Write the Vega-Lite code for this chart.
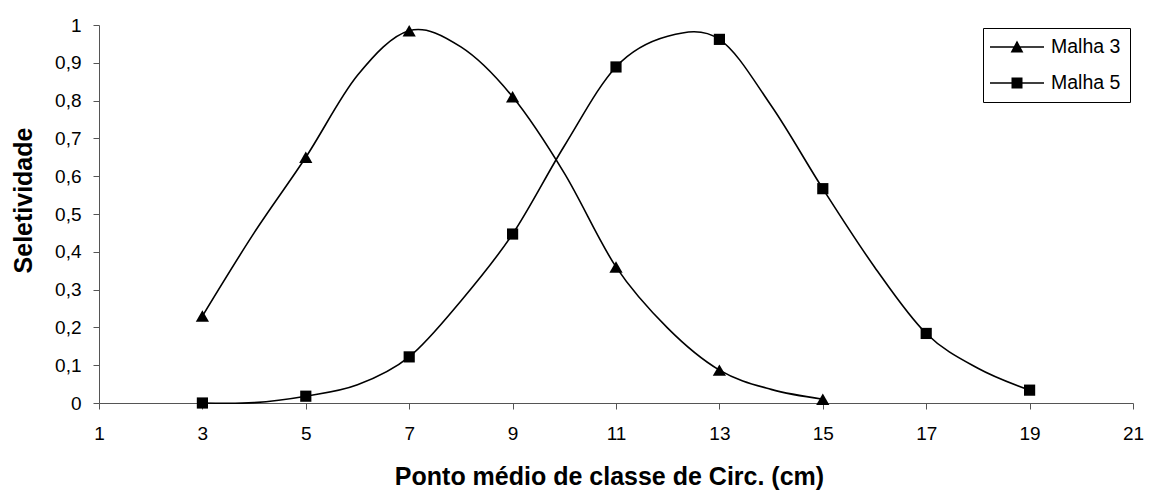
{
  "$schema": "https://vega.github.io/schema/vega-lite/v6.json",
  "autosize": {"type": "none"},
  "width": 1034,
  "height": 378,
  "padding": {"left": 99, "top": 25, "right": 19, "bottom": 89},
  "background": "white",
  "config": {
    "view": {"stroke": null},
    "font": "Liberation Sans",
    "axis": {"grid": false, "domainColor": "#555555", "tickColor": "#555555", "domainWidth": 1, "tickWidth": 1, "labelColor": "black", "titleColor": "black", "labelFont": "Liberation Sans", "titleFont": "Liberation Sans"}
  },
  "data": {
    "values": [
      {"x": 3, "s": 0.23, "series": "Malha 3", "m": true},
      {"x": 4, "s": 0.45, "series": "Malha 3", "m": false},
      {"x": 5, "s": 0.65, "series": "Malha 3", "m": true},
      {"x": 6, "s": 0.867, "series": "Malha 3", "m": false},
      {"x": 7, "s": 0.985, "series": "Malha 3", "m": true},
      {"x": 8, "s": 0.942, "series": "Malha 3", "m": false},
      {"x": 9, "s": 0.81, "series": "Malha 3", "m": true},
      {"x": 10, "s": 0.608, "series": "Malha 3", "m": false},
      {"x": 11, "s": 0.36, "series": "Malha 3", "m": true},
      {"x": 12, "s": 0.198, "series": "Malha 3", "m": false},
      {"x": 13, "s": 0.087, "series": "Malha 3", "m": true},
      {"x": 14, "s": 0.036, "series": "Malha 3", "m": false},
      {"x": 15, "s": 0.01, "series": "Malha 3", "m": true},
      {"x": 3, "s": 0.0, "series": "Malha 5", "m": true},
      {"x": 4, "s": 0.001, "series": "Malha 5", "m": false},
      {"x": 5, "s": 0.018, "series": "Malha 5", "m": true},
      {"x": 6, "s": 0.048, "series": "Malha 5", "m": false},
      {"x": 7, "s": 0.122, "series": "Malha 5", "m": true},
      {"x": 8, "s": 0.27, "series": "Malha 5", "m": false},
      {"x": 9, "s": 0.447, "series": "Malha 5", "m": true},
      {"x": 10, "s": 0.68, "series": "Malha 5", "m": false},
      {"x": 11, "s": 0.889, "series": "Malha 5", "m": true},
      {"x": 12, "s": 0.97, "series": "Malha 5", "m": false},
      {"x": 13, "s": 0.962, "series": "Malha 5", "m": true},
      {"x": 14, "s": 0.787, "series": "Malha 5", "m": false},
      {"x": 15, "s": 0.567, "series": "Malha 5", "m": true},
      {"x": 16, "s": 0.36, "series": "Malha 5", "m": false},
      {"x": 17, "s": 0.184, "series": "Malha 5", "m": true},
      {"x": 18, "s": 0.092, "series": "Malha 5", "m": false},
      {"x": 19, "s": 0.034, "series": "Malha 5", "m": true}
    ]
  },
  "encoding": {
    "x": {
      "field": "x", "type": "quantitative",
      "scale": {"domain": [1, 21], "nice": false, "zero": false},
      "axis": {
        "values": [1, 3, 5, 7, 9, 11, 13, 15, 17, 19, 21],
        "title": "Ponto médio de classe de Circ. (cm)",
        "titleFontSize": 25, "titleFontWeight": "bold",
        "titleX": 510, "titleY": 81, "titleBaseline": "alphabetic", "titleAlign": "center",
        "labelFontSize": 19, "tickSize": 6, "labelPadding": 15, "labelFlush": false
      }
    },
    "y": {
      "field": "s", "type": "quantitative",
      "scale": {"domain": [0, 1], "nice": false},
      "axis": {
        "values": [0, 0.1, 0.2, 0.3, 0.4, 0.5, 0.6, 0.7, 0.8, 0.9, 1],
        "labelExpr": "replace(format(datum.value, '.1~f'), '.', ',')",
        "title": "Seletividade",
        "titleFontSize": 25, "titleFontWeight": "bold",
        "titleAngle": -90, "titleX": -68, "titleY": 175, "titleBaseline": "alphabetic", "titleAlign": "center",
        "labelFontSize": 19, "tickSize": 6, "labelPadding": 12, "labelFlush": false
      }
    }
  },
  "layer": [
    {
      "mark": {"type": "line", "color": "black", "strokeWidth": 1.6, "interpolate": "cardinal"},
      "encoding": {"detail": {"field": "series"}}
    },
    {
      "transform": [{"filter": "datum.m"}],
      "mark": {"type": "point", "filled": true, "color": "black", "opacity": 1},
      "encoding": {
        "shape": {"condition": {"test": "datum.series === 'Malha 3'", "value": "triangle-up"}, "value": "square"},
        "size": {"condition": {"test": "datum.series === 'Malha 3'", "value": 175}, "value": 125}
      }
    },
    {
      "transform": [{"filter": "datum.m"}],
      "mark": {"type": "point", "filled": true, "color": "black", "opacity": 0, "size": 400},
      "encoding": {
        "shape": {
          "field": "series", "type": "nominal",
          "scale": {"domain": ["Malha 3", "Malha 5"], "range": ["M-2.7,-0.075H2.7V0.075H-2.7ZM0,-0.64L0.64,0.54L-0.64,0.54Z", "M-2.7,-0.075H2.7V0.075H-2.7ZM-0.55,-0.55H0.55V0.55H-0.55Z"]},
          "legend": {
            "title": null,
            "orient": "none",
            "legendX": 884,
            "legendY": 3,
            "strokeColor": "black",
            "fillColor": "white",
            "padding": 9,
            "symbolSize": 400,
            "symbolOffset": 15,
            "symbolFillColor": "black",
            "symbolStrokeColor": "black",
            "symbolStrokeWidth": 0,
            "symbolOpacity": 1,
            "labelFontSize": 19.5,
            "labelFont": "Liberation Sans",
            "labelColor": "black",
            "labelOffset": 24,
            "rowPadding": 16,
            "encode": {
              "symbols": {
                "update": {
                  "size": {"value": 400},
                  "fill": {"value": "black"},
                  "opacity": {"value": 1}
                }
              }
            }
          }
        }
      }
    }
  ]
}
